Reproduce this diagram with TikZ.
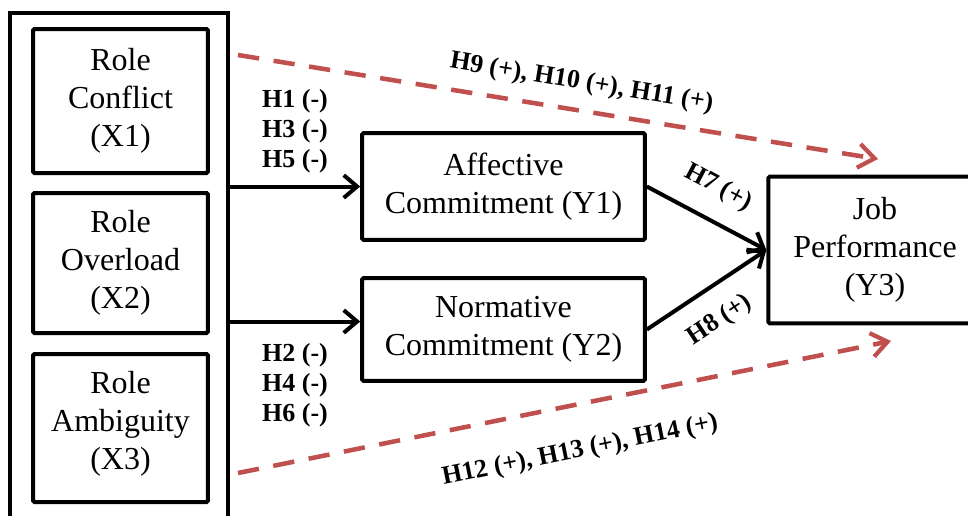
\documentclass[tikz,border=0pt]{standalone}
\usepackage{fontspec}
\setmainfont{Liberation Serif}
\definecolor{hypred}{RGB}{192,80,77}
\usetikzlibrary{arrows.meta,positioning,calc}
\tikzset{
  varbox/.style={draw=black, line width=3pt, rounded corners=1pt, align=center, font=\fontsize{24}{28.5}\selectfont},
  hyplab/.style={align=left, inner sep=1pt, text=black, font=\fontsize{19.5}{22.5}\selectfont\bfseries},
  arr/.style={-{Straight Barb[length=10pt, width=17pt, line width=3pt]}, line width=3pt},
  dasharr/.style={-{Straight Barb[length=12pt, width=18pt, line width=3.2pt]}, line width=3.4pt, hypred, dash pattern=on 16pt off 11pt}
}

\begin{document}
\begin{tikzpicture}[x=0.75pt, y=-0.75pt]
  \useasboundingbox (0,0) rectangle (968,515);
  % outer frame round the three role boxes
  \node[draw=black, line width=3pt, minimum width=163.5pt, minimum height=392pt] (xgroup) at (119,274) {};
  \node[varbox, minimum width=131pt, minimum height=108pt] (x1) at (120.5,101) {Role\\Conflict\\(X1)};
  \node[varbox, minimum width=131pt, minimum height=105pt] (x2) at (120.5,263) {Role\\Overload\\(X2)};
  \node[varbox, minimum width=131pt, minimum height=111pt] (x3) at (120.5,428) {Role\\Ambiguity\\(X3)\\[-16.5pt]};
  % mediators and outcome
  \node[varbox, minimum width=212pt, minimum height=80pt] (y1) at (503.5,186.5) {Affective\\Commitment (Y1)};
  \node[varbox, minimum width=212pt, minimum height=77pt] (y2) at (503.5,329.5) {Normative\\Commitment (Y2)};
  \node[varbox, minimum width=160pt, minimum height=110pt] (job) at (875,250) {Job\\Performance\\(Y3)};
  % hypotheses
  \node[hyplab] (h135) at (295,131) {H1 (-)\\H3 (-)\\H5 (-)};
  \node[hyplab] (h246) at (295,385) {H2 (-)\\H4 (-)\\H6 (-)};
  \coordinate (in2) at ([yshift=6pt]y2.west);
  \draw[arr] (xgroup.east |- y1.west) -- (y1.west);
  \draw[arr] (xgroup.east |- in2) -- (in2);
  \draw[arr] (y1.east) -- node[hyplab, sloped, above=13pt, pos=0.47] (h7) {H7 (+)} (job.west);
  \draw[arr] (y2.east) -- node[hyplab, sloped, below=13pt, pos=0.46] (h8) {H8 (+)} (job.west);
  % direct effects
  \coordinate (d1s) at (238,55);
  \coordinate (d1e) at (878,159);
  \coordinate (d2s) at (238,473);
  \coordinate (d2e) at (891,341);
  \draw[dasharr] (d1s) -- node[hyplab, sloped, above=9pt, pos=0.53] (h911) {H9 (+), H10 (+), H11 (+)} (d1e);
  \draw[dasharr] (d2s) -- node[hyplab, sloped, below=23pt, pos=0.51] (h1214) {H12 (+), H13 (+), H14 (+)} (d2e);
\end{tikzpicture}
\end{document}
